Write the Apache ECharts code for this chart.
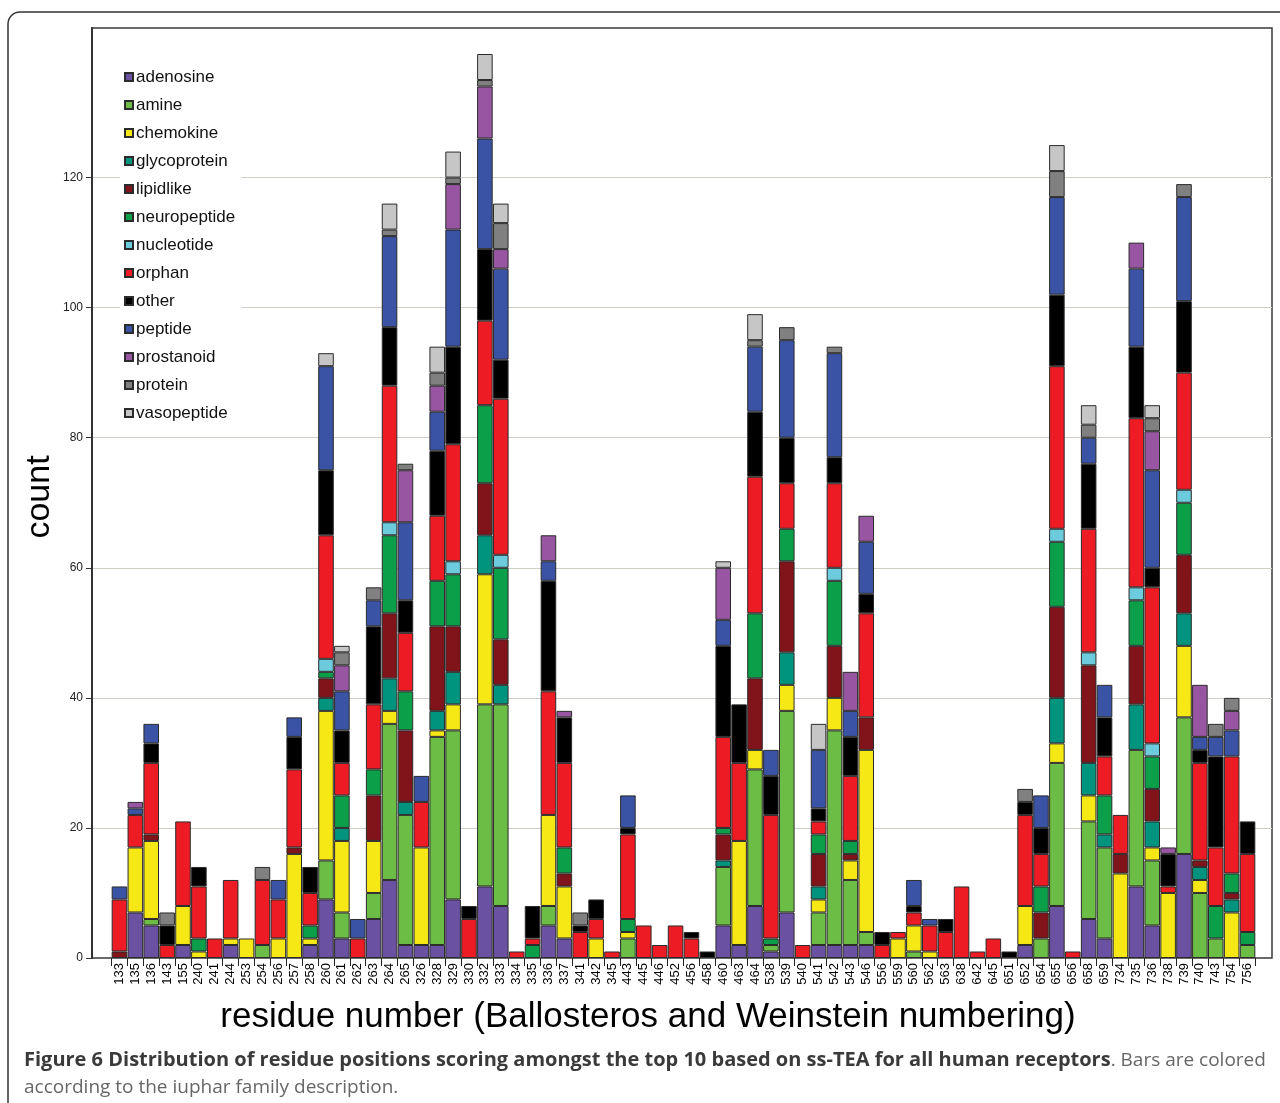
<!DOCTYPE html>
<html>
<head>
<meta charset="utf-8">
<script src="https://cdn.jsdelivr.net/npm/echarts@6/dist/echarts.min.js"></script>
<style>
html,body{margin:0;padding:0;background:#fff;}
#chart{width:1280px;height:1103px;}
</style>
</head>
<body>
<div id="chart"></div>
<script>
const categories = ['133','135','136','143','155','240','241','244','253','254','256','257','258','260','261','262','263','264','265','326','328','329','330','332','333','334','335','336','337','341','342','345','443','445','446','452','456','458','460','463','464','538','539','540','541','542','543','546','556','559','560','562','563','638','642','645','651','652','654','655','656','658','659','734','735','736','738','739','740','743','754','756'];

const adenosine    = [0,7,5,0,2,0,0,2,0,0, 0,0,2,9,3,0,6,12,2,2, 2,9,0,11,8,0,0,5,3,0, 0,0,0,0,0,0,0,0,5,2, 8,1,7,0,2,2,2,2,0,0, 0,0,0,0,0,0,0,2,0,8, 0,6,3,0,11,5,0,16,0,0, 0,0];
const amine        = [0,0,1,0,0,0,0,0,0,2, 0,0,0,6,4,0,4,24,20,0, 32,26,0,28,31,0,0,3,0,0, 0,0,3,0,0,0,0,0,9,0, 21,1,31,0,5,33,10,2,0,0, 1,0,0,0,0,0,0,0,3,22, 0,15,14,0,21,10,0,21,10,3, 0,2];
const chemokine    = [0,10,12,0,6,1,0,1,3,0, 3,16,1,23,11,0,8,2,0,15, 1,4,0,20,0,0,0,14,8,0, 3,0,1,0,0,0,0,0,0,16, 3,0,4,0,2,5,3,28,0,3, 4,1,0,0,0,0,0,6,0,3, 0,4,0,13,0,2,10,11,2,0, 7,0];
const glycoprotein = [0,0,0,0,0,0,0,0,0,0, 0,0,0,2,2,0,0,5,2,0, 3,5,0,6,3,0,0,0,0,0, 0,0,0,0,0,0,0,0,1,0, 0,0,5,0,2,0,0,0,0,0, 0,0,0,0,0,0,0,0,0,7, 0,5,2,0,7,4,0,5,2,0, 2,0];
const lipidlike    = [1,0,1,0,0,0,0,0,0,0, 0,1,0,3,0,0,7,10,11,0, 13,7,0,8,7,0,0,0,2,0, 0,0,0,0,0,0,0,0,4,0, 11,0,14,0,5,8,1,5,0,0, 0,0,0,0,0,0,0,0,4,14, 0,15,0,3,9,5,0,9,1,0, 1,0];
const neuropeptide = [0,0,0,0,0,2,0,0,0,0, 0,0,2,1,5,0,4,12,6,0, 7,8,0,12,11,0,2,0,4,0, 0,0,2,0,0,0,0,0,1,0, 10,1,5,0,3,10,2,0,0,0, 0,0,0,0,0,0,0,0,4,10, 0,0,6,0,7,5,0,8,0,5, 3,2];
const nucleotide   = [0,0,0,0,0,0,0,0,0,0, 0,0,0,2,0,0,0,2,0,0, 0,2,0,0,2,0,0,0,0,0, 0,0,0,0,0,0,0,0,0,0, 0,0,0,0,0,2,0,0,0,0, 0,0,0,0,0,0,0,0,0,2, 0,2,0,0,2,2,0,2,0,0, 0,0];
const orphan       = [8,5,11,2,13,8,3,9,0,10, 6,12,5,19,5,3,10,21,9,7, 10,18,6,13,24,1,1,19,13,4, 3,1,13,5,2,5,3,0,14,12, 21,19,7,2,2,13,10,16,2,1, 2,4,4,11,1,3,0,14,5,25, 1,19,6,6,26,24,1,18,15,9, 18,12];
const other        = [0,0,3,3,0,3,0,0,0,0, 0,5,4,10,5,0,12,9,5,0, 10,15,2,11,6,0,5,17,7,1, 3,0,1,0,0,0,1,1,14,9, 10,6,7,0,2,4,6,3,2,0, 1,0,2,0,0,0,1,2,4,11, 0,10,6,0,11,3,5,11,2,14, 0,5];
const peptide      = [2,1,3,0,0,0,0,0,0,0, 3,3,0,16,6,3,4,14,12,4, 6,18,0,17,14,0,0,3,0,0, 0,0,5,0,0,0,0,0,4,0, 10,4,15,0,9,16,4,8,0,0, 4,1,0,0,0,0,0,0,5,15, 0,4,5,0,12,15,0,16,2,3, 4,0];
const prostanoid   = [0,1,0,0,0,0,0,0,0,0, 0,0,0,0,4,0,0,0,8,0, 4,7,0,8,3,0,0,4,1,0, 0,0,0,0,0,0,0,0,8,0, 0,0,0,0,0,0,6,4,0,0, 0,0,0,0,0,0,0,0,0,0, 0,0,0,0,4,6,1,0,8,0, 3,0];
const protein      = [0,0,0,2,0,0,0,0,0,2, 0,0,0,0,2,0,2,1,1,0, 2,1,0,1,4,0,0,0,0,2, 0,0,0,0,0,0,0,0,0,0, 1,0,2,0,0,1,0,0,0,0, 0,0,0,0,0,0,0,2,0,4, 0,2,0,0,0,2,0,2,0,2, 2,0];
const vasopeptide  = [0,0,0,0,0,0,0,0,0,0, 0,0,0,2,1,0,0,4,0,0, 4,4,0,4,3,0,0,0,0,0, 0,0,0,0,0,0,0,0,1,0, 4,0,0,0,4,0,0,0,0,0, 0,0,0,0,0,0,0,0,0,4, 0,3,0,0,0,2,0,0,0,0, 0,0];

const yTicks = [0,20,40,60,80,100,120];

const families = [
  ['adenosine', adenosine, '#6a51a2'],
  ['amine', amine, '#6cbd45'],
  ['chemokine', chemokine, '#f6e814'],
  ['glycoprotein', glycoprotein, '#00947f'],
  ['lipidlike', lipidlike, '#80141a'],
  ['neuropeptide', neuropeptide, '#0c9f4a'],
  ['nucleotide', nucleotide, '#6ccbdc'],
  ['orphan', orphan, '#ed1c24'],
  ['other', other, '#000000'],
  ['peptide', peptide, '#3a53a4'],
  ['prostanoid', prostanoid, '#9855a1'],
  ['protein', protein, '#808080'],
  ['vasopeptide', vasopeptide, '#c6c6c6']
];

const YMAX = 143;
const chart = echarts.init(document.getElementById('chart'), null, {renderer: 'canvas'});

const barSeries = families.map(([name, vals, color]) => ({
  name: name,
  type: 'bar',
  stack: 'total',
  xAxisIndex: 1,
  yAxisIndex: 1,
  barCategoryGap: '2%',
  itemStyle: {color: color, borderColor: '#2b2b2b', borderWidth: 1},
  emphasis: {disabled: true},
  data: vals.map(v => v === 0 ? '-' : v)
}));

const gridColors = yTicks.map((t, i) => i === 0 ? 'transparent' : '#cfcfc8');
gridColors.push('transparent', 'transparent', 'transparent');

chart.setOption({
  animation: false,
  backgroundColor: '#ffffff',
  textStyle: {fontFamily: 'Liberation Sans, Arial, sans-serif'},
  grid: [
    {left: 92, top: 28, width: 1180, height: 930, show: true, borderColor: '#3a3a3a', borderWidth: 1.5, backgroundColor: 'transparent', z: 0},
    {left: 111.5, top: 28, width: 1144, height: 930, show: false}
  ],
  xAxis: [
    {gridIndex: 0, type: 'value', min: 0, max: 1, show: false},
    {gridIndex: 1, type: 'category', data: categories,
     axisLine: {show: false},
     axisTick: {show: true, interval: 0, length: 8, lineStyle: {color: '#222', width: 1}},
     axisLabel: {interval: 0, rotate: 90, margin: 5, fontSize: 13, color: '#000', fontFamily: 'Liberation Sans, Arial, sans-serif'}}
  ],
  yAxis: [
    {gridIndex: 0, type: 'value', min: 0, max: YMAX, interval: 20,
     axisLine: {show: true, lineStyle: {color: '#333', width: 2}},
     axisTick: {show: true, length: 6, customValues: yTicks, lineStyle: {color: '#333'}},
     axisLabel: {customValues: yTicks, fontSize: 12, color: '#222', margin: 9,
                 formatter: v => (v <= 120 ? String(v) : '')},
     splitLine: {show: true, lineStyle: {color: gridColors, width: 1}}},
    {gridIndex: 1, type: 'value', min: 0, max: YMAX, show: false, splitLine: {show: false}}
  ],
  legend: {
    orient: 'vertical',
    left: 120, top: 62,
    itemWidth: 8, itemHeight: 8, itemGap: 10,
    icon: 'rect',
    backgroundColor: '#ffffff',
    padding: [6, 6, 8, 4],
    textStyle: {fontSize: 17, color: '#111', padding: [0, 0, 0, -2], fontFamily: 'Liberation Sans, Arial, sans-serif', lineHeight: 18},
    data: families.map(f => f[0])
  },
  graphic: [
    {type: 'rect', z: -10, silent: true,
     shape: {x: 8, y: 12, width: 1400, height: 1300, r: 12},
     style: {fill: 'none', stroke: '#333', lineWidth: 1.5}},
    {type: 'text', silent: true, x: 40, y: 497, rotation: Math.PI / 2,
     style: {text: 'count', font: '34px "Liberation Sans", Arial, sans-serif', fill: '#000', align: 'center', verticalAlign: 'middle'}},
    {type: 'text', silent: true, x: 648, y: 1017,
     style: {text: 'residue number (Ballosteros and Weinstein numbering)', font: '35px "Liberation Sans", Arial, sans-serif', fill: '#000', align: 'center', verticalAlign: 'middle'}},
    {type: 'text', silent: true, x: 24, y: 1047,
     style: {
       text: '{b|Figure 6 Distribution of residue positions scoring amongst the top 10 based on ss-TEA for all human receptors}{r|. Bars are colored}\n{r|according to the iuphar family description.}',
       rich: {
         b: {font: 'bold 20px "Open Sans", "Noto Sans", sans-serif', fill: '#3a3a3a', lineHeight: 27},
         r: {font: '19px "Open Sans", "Noto Sans", sans-serif', fill: '#666', lineHeight: 27}
       }
     }}
  ],
  series: barSeries
});
</script>
</body>
</html>
